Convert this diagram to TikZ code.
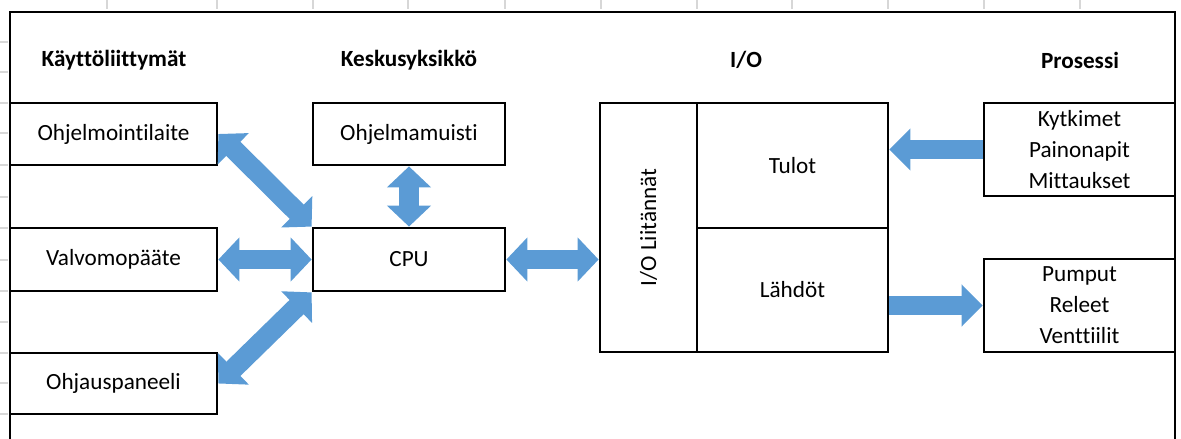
\documentclass[tikz,border=0pt]{standalone}
\usepackage{fontspec}
\setmainfont{Carlito}[Ligatures=NoCommon]
\usetikzlibrary{arrows.meta}
\definecolor{arrowblue}{RGB}{91,155,213}
\definecolor{gridgray}{RGB}{215,215,215}
\begin{document}
\begin{tikzpicture}[x=0.02cm, y=-0.02cm, every node/.style={font=\fontsize{13.2}{17.6}\selectfont}]
        \tikzstyle{box} = [rectangle, draw, line width=1.6pt, inner sep=0pt, align=center]
        \tikzstyle{header} = [font=\fontsize{13.2}{16}\selectfont\bfseries]
        \tikzstyle{twoway} = [draw=arrowblue, line width=0.4cm, {Triangle[length=0.42cm,width=0.86cm]}-{Triangle[length=0.42cm,width=0.86cm]}]
        \tikzstyle{oneway} = [draw=arrowblue, line width=0.4cm, -{Triangle[length=0.42cm,width=0.82cm]}]
        \useasboundingbox (0,0) rectangle (1181,439);

        \foreach \gx in {107,217,313,408,505,601,697,792,888,984,1080}
            \draw [gridgray, line width=0.6pt] (\gx,0) -- (\gx,9);
        \foreach \gy in {42,72,103,133,165,197,228,260,291,322,353,383,414}
            \draw [gridgray, line width=0.6pt] (0,\gy) -- (8,\gy);
        \draw [line width=1.6pt] (10,439) |- (1175,12) -- (1175,439);

        \node [header] (kaytto)   at (114,60)  {Käyttöliittymät};
        \node [header] (keskus)   at (409,60)  {Keskusyksikkö};
        \node [header] (io)       at (746,60)  {I/O};
        \node [header] (prosessi) at (1080,60) {Prosessi};

        \node [box, minimum width=4.14cm, minimum height=1.24cm] (ohjelmointi) at (113.5,134)   {Ohjelmointilaite};
        \node [box, minimum width=4.14cm, minimum height=1.26cm] (valvomo)     at (113.5,259.5) {Valvomopääte};
        \node [box, minimum width=4.14cm, minimum height=1.22cm] (ohjaus)      at (113.5,383.5) {Ohjauspaneeli};
        \node [box, minimum width=3.84cm, minimum height=1.24cm] (muisti)      at (409,134)     {Ohjelmamuisti};
        \node [box, minimum width=3.84cm, minimum height=1.26cm] (cpu)         at (409,259.5)   {CPU};
        \node [box, minimum width=1.94cm, minimum height=4.98cm, label={[rotate=90]center:I/O Liitännät}] (liitannat) at (648.5,227.5) {};
        \node [box, minimum width=3.82cm, minimum height=2.50cm] (tulot)       at (792.5,165.5) {Tulot};
        \node [box, minimum width=3.82cm, minimum height=2.48cm] (lahdot)      at (792.5,290)   {Lähdöt};
        \node [box, minimum width=3.82cm, minimum height=1.86cm] (anturit)     at (1079.5,149.5) {Kytkimet\\Painonapit\\Mittaukset};
        \node [box, minimum width=3.82cm, minimum height=1.86cm] (toimilaite)  at (1079.5,305.5) {Pumput\\Releet\\Venttiilit};

        \draw [twoway] (ohjelmointi.east) -- (cpu.north west);
        \draw [twoway] (muisti.south) -- (cpu.north);
        \draw [twoway] (valvomo.east) -- (cpu.west);
        \draw [twoway] (ohjaus.east) -- (cpu.south west);
        \draw [twoway] (cpu.east) -- (cpu.east -| liitannat.west);
        \draw [oneway] (anturit.west) -- (anturit.west -| tulot.east);
        \draw [oneway] (toimilaite.west -| lahdot.east) -- (toimilaite.west);
    \end{tikzpicture}
\end{document}
